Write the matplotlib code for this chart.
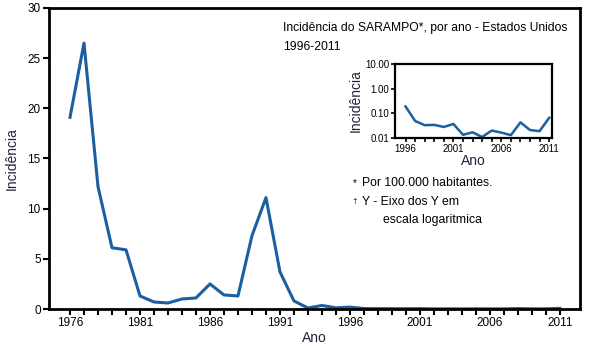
import matplotlib
matplotlib.use('Agg')
import matplotlib.pyplot as plt
from matplotlib.ticker import FixedLocator, FixedFormatter

plt.rcParams['font.family'] = ['Liberation Sans Narrow', 'Liberation Sans', 'DejaVu Sans']

anos = list(range(1976, 2012))
incidencia = [19.1, 26.5, 12.2, 6.1, 5.9, 1.3, 0.7, 0.6, 1.0, 1.1,
              2.5, 1.4, 1.3, 7.3, 11.1, 3.7, 0.8, 0.1, 0.35, 0.12,
              0.19, 0.049, 0.033, 0.034, 0.028, 0.037, 0.0135, 0.017, 0.011, 0.02,
              0.0166, 0.013, 0.043, 0.021, 0.019, 0.066]

anos_ins = anos[20:]
incid_ins = incidencia[20:]

azul = '#1b5fa3'
escuro = '#2a1f3d'

fig = plt.figure(figsize=(6.11, 3.47), dpi=100)
ax = fig.add_axes([0.0802, 0.1095, 0.869, 0.8675])
ax.plot(anos, incidencia, color=azul, lw=2.2)
ax.set_xlim(1974.5, 2012.43)
ax.set_ylim(0, 30)
ax.set_xticks(anos, minor=True)
ax.set_xticks(range(1976, 2012, 5))
ax.set_yticks(range(0, 31, 5))
ax.tick_params(which='both', direction='out', length=4, width=1.5, labelsize=8.5, pad=2)
for s in ax.spines.values():
    s.set_linewidth(2)
ax.set_xlabel('Ano', color=escuro, fontsize=10, labelpad=1)
ax.set_ylabel('Incidência', color=escuro, fontsize=10, labelpad=6)

fig.text(0.463, 0.92, 'Incidência do SARAMPO*, por ano - Estados Unidos', fontsize=8.7, va='center')
fig.text(0.463, 0.864, '1996-2011', fontsize=8.7, va='center')

fig.text(0.577, 0.473, '*', fontsize=7, va='center')
fig.text(0.592, 0.473, 'Por 100.000 habitantes.', fontsize=8.8, va='center')
fig.text(0.577, 0.418, '†', fontsize=6, va='center')
fig.text(0.592, 0.418, 'Y - Eixo dos Y em', fontsize=8.8, va='center')
fig.text(0.627, 0.366, 'escala logaritmica', fontsize=8.8, va='center')

ins = fig.add_axes([0.6465, 0.6023, 0.257, 0.2133])
ins.plot(anos_ins, incid_ins, color=azul, lw=1.8)
ins.set_yscale('log')
ins.set_ylim(0.01, 10)
ins.set_xlim(1994.9, 2011.3)
ins.yaxis.set_major_locator(FixedLocator([0.01, 0.1, 1, 10]))
ins.yaxis.set_major_formatter(FixedFormatter(['0.01', '0.10', '1.00', '10.00']))
ins.yaxis.set_minor_locator(FixedLocator([]))
ins.set_xticks(anos_ins, minor=True)
ins.set_xticks(range(1996, 2012, 5))
ins.tick_params(which='both', direction='out', length=3, width=1.2, labelsize=7, pad=1)
for s in ins.spines.values():
    s.set_linewidth(1.6)
ins.set_xlabel('Ano', color=escuro, fontsize=10, labelpad=0)
ins.set_ylabel('Incidência', color=escuro, fontsize=10, labelpad=2)

fig.savefig('out.png', dpi=100)
